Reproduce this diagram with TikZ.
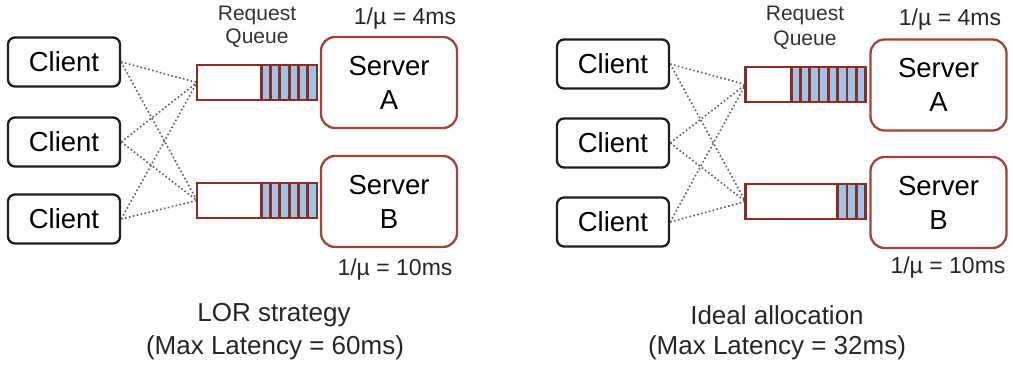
\documentclass[tikz,border=0pt]{standalone}
\usepackage{fontspec}
\setmainfont{Liberation Sans}
\usetikzlibrary{calc}

\definecolor{qred}{RGB}{139,45,35}
\definecolor{srvred}{RGB}{160,68,56}
\definecolor{cellblue}{RGB}{157,195,230}
\definecolor{clientedge}{RGB}{30,30,30}
\definecolor{linkgray}{RGB}{95,95,95}

\tikzset{
  client/.style={draw=clientedge, line width=2.3pt, rounded corners=7pt,
    minimum width=112pt, minimum height=49pt, inner sep=0pt,
    font=\fontsize{27.5}{30}\selectfont},
  server/.style={draw=srvred, line width=2.3pt, rounded corners=14pt,
    minimum width=136pt, minimum height=91pt, inner sep=0pt, align=center,
    font=\fontsize{27.5}{34}\selectfont},
  queue/.style={minimum width=120pt, minimum height=35pt, inner sep=0pt, outer sep=0pt},
  qline/.style={draw=qred, line width=2.8pt},
  link/.style={linkgray, line width=1.6pt, dash pattern=on 1.6pt off 2.4pt},
  small/.style={font=\fontsize{21}{22}\selectfont, text=black!80},
  rate/.style={font=\fontsize{23}{24}\selectfont, text=black!85},
  caption/.style={font=\fontsize{26}{30}\selectfont, text=black!85},
}

% cells of a request queue, packed against its right end
\newcommand\qcells[2]{%
  \fill[cellblue] ($(#1.north east)+(-#2*9.3,0)$) rectangle (#1.south east);
  \foreach \k in {1,...,#2}
    \draw[qline] ($(#1.north east)+(-\k*9.3,0)$) -- ($(#1.south east)+(-\k*9.3,0)$);
  \draw[qline] (#1.north west) rectangle (#1.south east);
}

\begin{document}
\begin{tikzpicture}[x=1pt, y=-1pt]
\useasboundingbox (0,0) rectangle (1013,366);

% ---------- left: LOR strategy ----------
\node[client] (lc1) at (64,62) {Client};
\node[client] (lc2) at (64,142) {Client};
\node[client] (lc3) at (64,219) {Client};

\node[queue] (lqA) at (257,82.5) {};
\node[queue] (lqB) at (257,200.5) {};

\node[server] (lsA) at (389,82.5) {Server\\A};
\node[server] (lsB) at (389,201.5) {Server\\B};

\foreach \c in {lc1,lc2,lc3} {
  \draw[link] (\c.east) -- (lqA.west);
  \draw[link] (\c.east) -- (lqB.west);
}
\qcells{lqA}{6}
\qcells{lqB}{6}

\node[small] (lreq) at (257,15) {Request};
\node[small] (lque) at (257,38) {Queue};
\node[rate] (lrA) at (405,19) {1/µ = 4ms};
\node[rate] (lrB) at (395,270) {1/µ = 10ms};
\node[caption] (lcap1) at (274,315) {LOR strategy};
\node[caption] (lcap2) at (275,348) {(Max Latency = 60ms)};

% ---------- right: ideal allocation ----------
\node[client] (rc1) at (613,64) {Client};
\node[client] (rc2) at (613,143) {Client};
\node[client] (rc3) at (613,222) {Client};

\node[queue] (rqA) at (805.5,84.5) {};
\node[queue] (rqB) at (805.5,201.5) {};

\node[server] (rsA) at (938.5,85) {Server\\A};
\node[server] (rsB) at (938.5,202.5) {Server\\B};

\foreach \c in {rc1,rc2,rc3} {
  \draw[link] (\c.east) -- (rqA.west);
  \draw[link] (\c.east) -- (rqB.west);
}
\qcells{rqA}{8}
\qcells{rqB}{3}

\node[small] (rreq) at (805,15) {Request};
\node[small] (rque) at (805,40) {Queue};
\node[rate] (rrA) at (950,20) {1/µ = 4ms};
\node[rate] (rrB) at (948,268) {1/µ = 10ms};
\node[caption] (rcap1) at (777,315) {Ideal allocation};
\node[caption] (rcap2) at (777,348) {(Max Latency = 32ms)};
\end{tikzpicture}
\end{document}
